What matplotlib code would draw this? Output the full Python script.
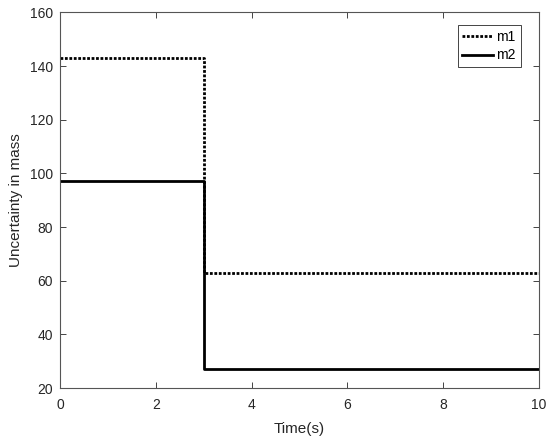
import matplotlib
matplotlib.use("Agg")
import matplotlib.pyplot as plt

plt.rcParams['font.family'] = ['Liberation Sans', 'DejaVu Sans']

t = [0, 3, 10]
m1 = [143, 63, 63]
m2 = [97, 27, 27]
x_ticks = [0, 2, 4, 6, 8, 10]
y_ticks = [20, 40, 60, 80, 100, 120, 140, 160]

fig = plt.figure(figsize=(5.5, 4.42), dpi=100)
ax = fig.add_axes([0.109, 0.122, 0.871, 0.85])

ax.step(t, m1, where='post', color='black', linewidth=2, linestyle=(0, (1, 0.6)), label='m1')
ax.step(t, m2, where='post', color='black', linewidth=2, label='m2')

ax.set_xlim(0, 10)
ax.set_ylim(20, 160)
ax.set_xticks(x_ticks)
ax.set_yticks(y_ticks)
ax.tick_params(direction='in', top=True, right=True, length=4, width=0.6,
               colors='#262626', labelsize=10, labelcolor='#262626')
ax.tick_params(axis='x', pad=7)
ax.tick_params(axis='y', pad=5)
for s in ax.spines.values():
    s.set_color('#555555')
    s.set_linewidth(0.8)

ax.set_xlabel('Time(s)', fontsize=11, color='#262626', labelpad=7)
ax.set_ylabel('Uncertainty in mass', fontsize=11, color='#262626', labelpad=5)

leg = ax.legend(loc='upper right', bbox_to_anchor=(0.962, 0.967), fontsize=10,
                fancybox=False, framealpha=1, edgecolor='#262626',
                handlelength=2.2, borderpad=0.35, handletextpad=0.25,
                labelspacing=0.35, borderaxespad=0)
leg.get_frame().set_linewidth(0.6)

fig.savefig('out.png', dpi=100)
